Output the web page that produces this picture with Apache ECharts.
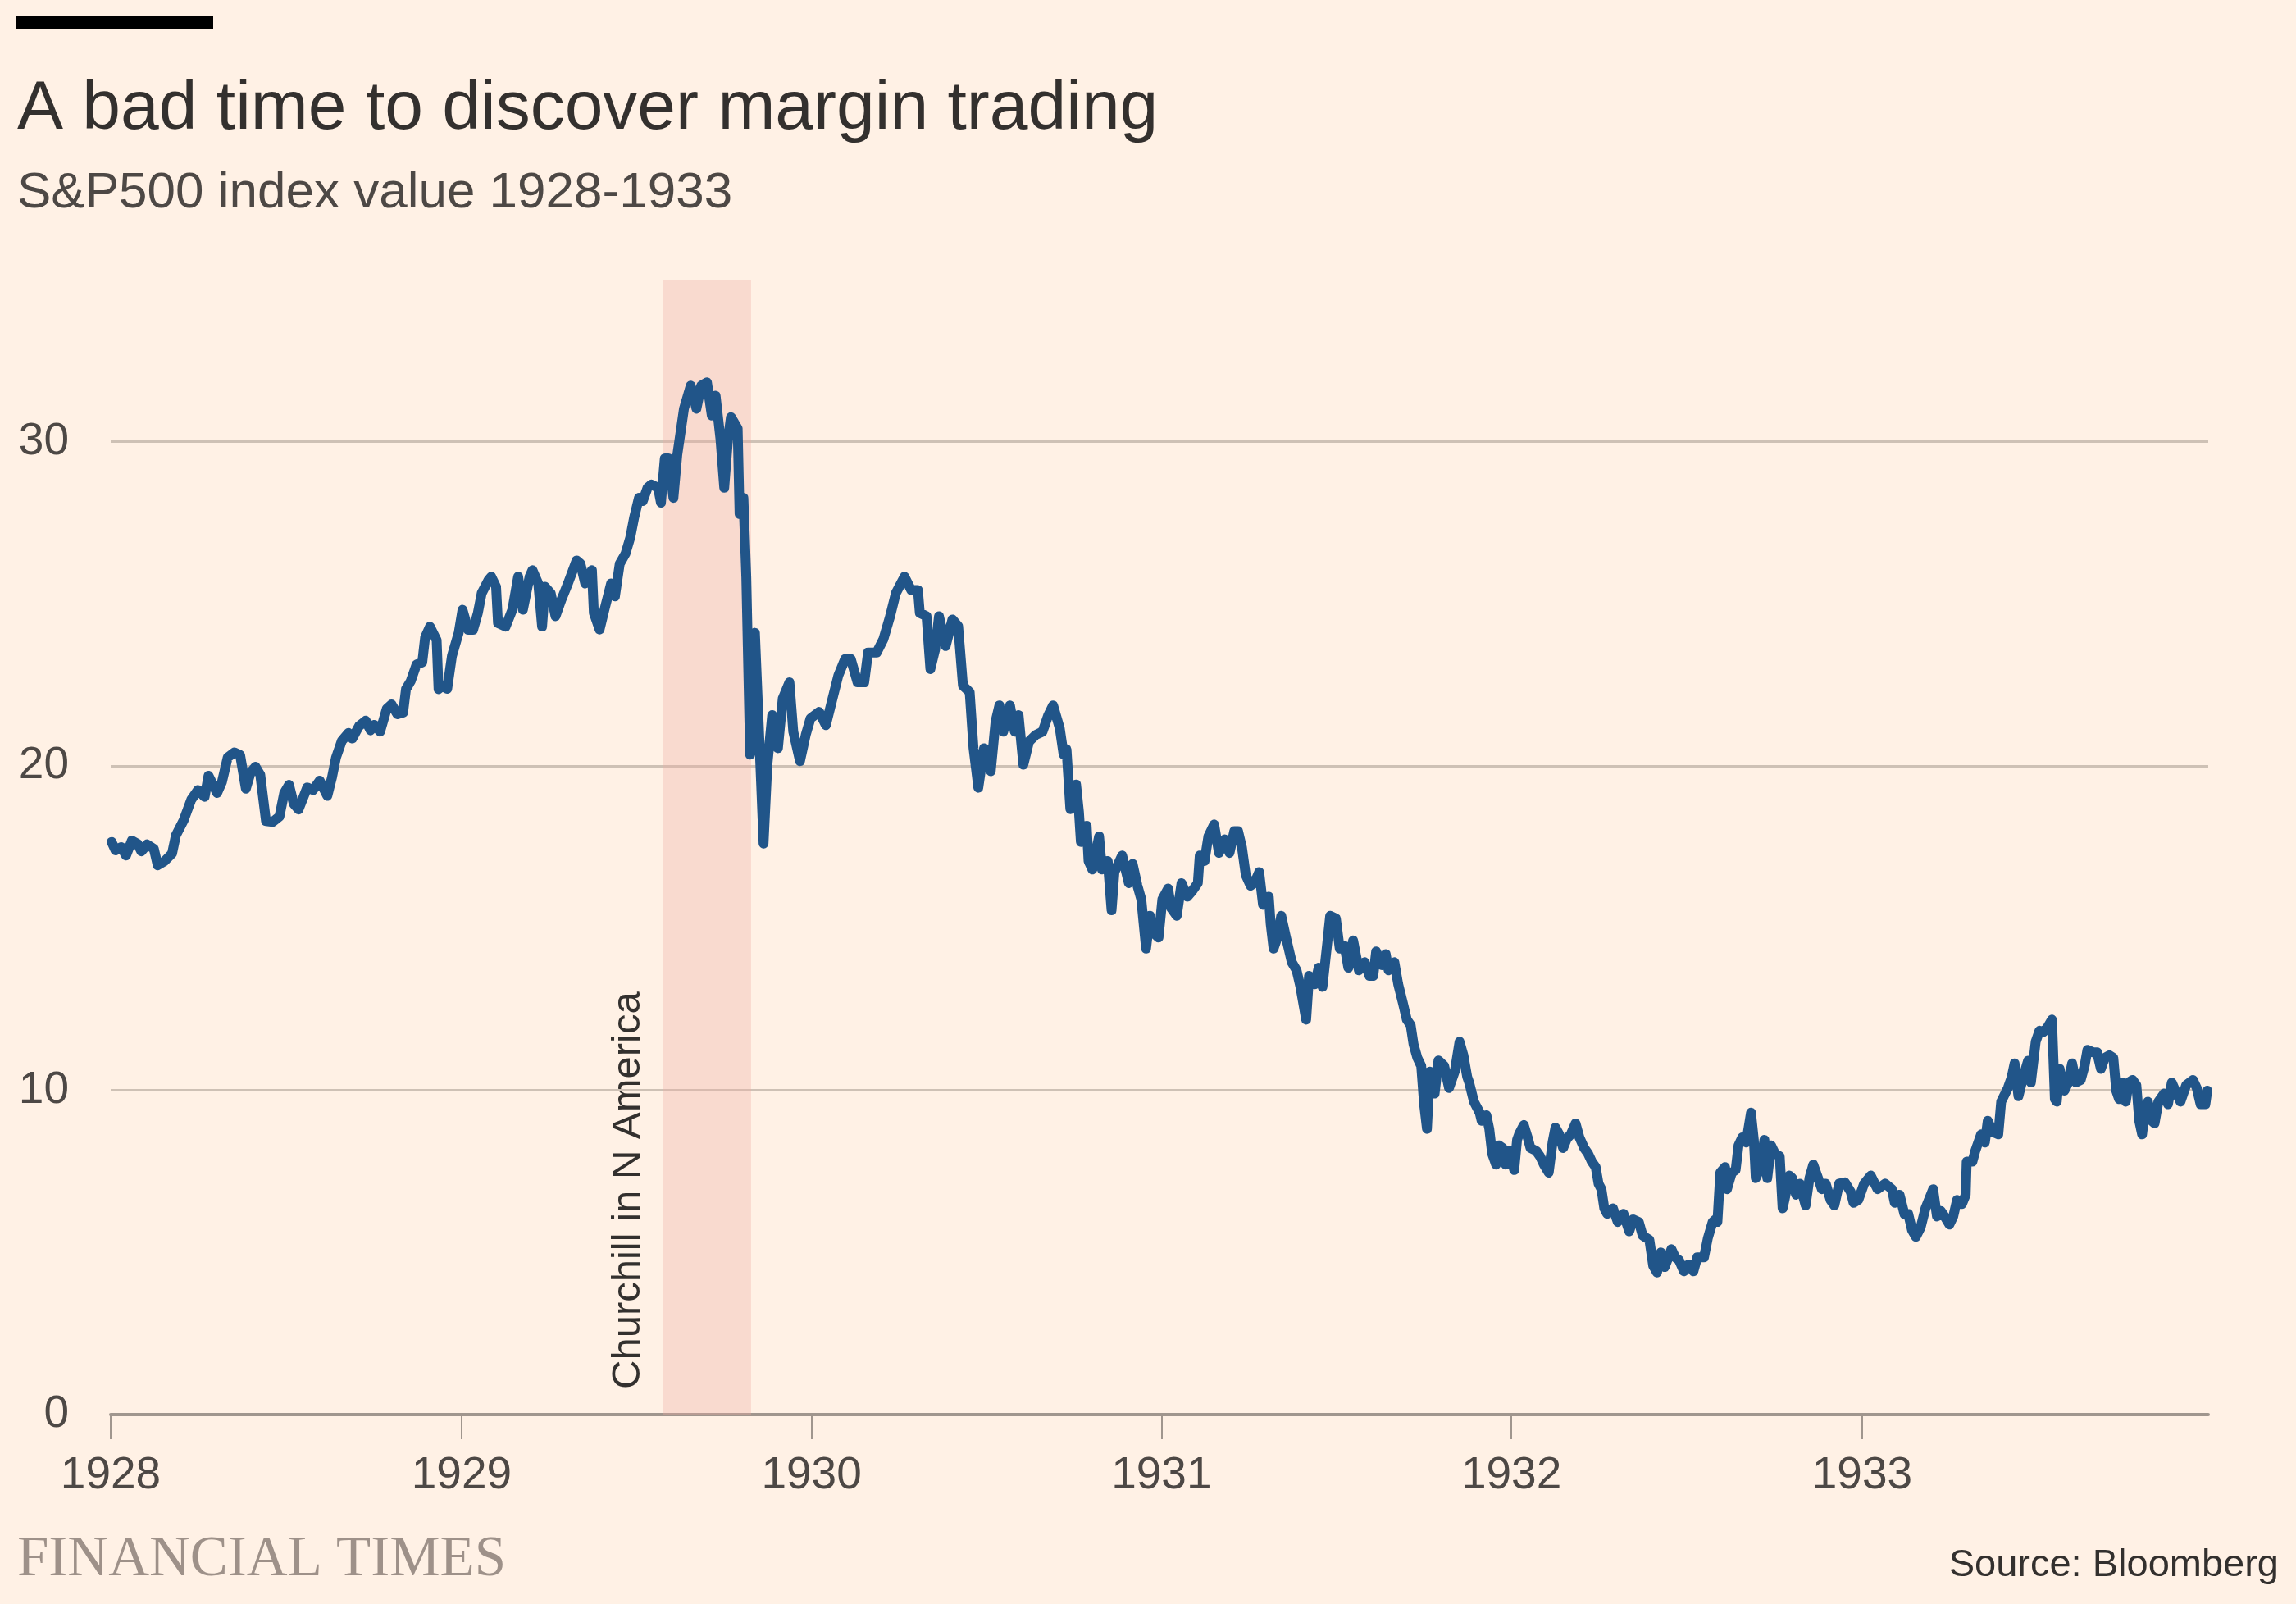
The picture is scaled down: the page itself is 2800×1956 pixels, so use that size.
<!DOCTYPE html>
<html>
<head>
<meta charset="utf-8">
<title>A bad time to discover margin trading</title>
<script src="https://cdn.jsdelivr.net/npm/echarts@6/dist/echarts.min.js"></script>
<style>
  html, body { margin: 0; padding: 0; background: #fff1e5; }
  #chart { width: 2800px; height: 1956px; }
</style>
</head>
<body>
<div id="chart"></div>
<script>
// S&P500 index. x = days since 1 Jan 1928
var dayOffsets = [
  1, 5, 11, 16, 22, 28, 32, 38, 45, 49, 56, 64, 68, 76, 84, 91, 98, 102, 111, 116,
  122, 129, 135, 141, 146, 151, 156, 162, 169, 176, 181, 186, 191, 196, 205, 211, 218, 226, 231, 235,
  241, 248, 252, 259, 266, 271, 275, 281, 288, 293, 299, 305, 308, 313, 319, 325, 328, 333, 340, 342,
  345, 351, 356, 363, 367, 373, 378, 383, 387, 394, 397, 402, 404, 412, 419, 425, 430, 437, 440, 446,
  450, 453, 459, 464, 470, 477, 486, 490, 495, 502, 504, 510, 515, 522, 526, 531, 537, 542, 546, 551,
  555, 560, 564, 571, 574, 578, 582, 587, 591, 598, 605, 611, 616, 622, 627, 631, 636, 640, 644, 647,
  654, 656, 660, 663, 667, 672, 676, 681, 685, 690, 696, 701, 708, 712, 719, 725, 730, 739, 746, 752,
  759, 766, 772, 779, 786, 790, 799, 806, 813, 819, 828, 835, 842, 844, 851, 855, 860, 864, 871, 878,
  884, 889, 896, 900, 905, 911, 918, 923, 927, 931, 938, 943, 947, 952, 958, 965, 972, 978, 983, 990,
  994, 997, 1001, 1007, 1010, 1012, 1018, 1020, 1024, 1031, 1034, 1040, 1044, 1047, 1055, 1062, 1066, 1071, 1075, 1080,
  1084, 1090, 1093, 1097, 1103, 1106, 1112, 1117, 1123, 1128, 1134, 1136, 1141, 1145, 1151, 1156, 1162, 1167, 1172, 1176,
  1180, 1184, 1189, 1193, 1198, 1202, 1208, 1210, 1213, 1217, 1221, 1226, 1232, 1237, 1241, 1247, 1250, 1256, 1260, 1264,
  1269, 1272, 1278, 1282, 1287, 1291, 1296, 1302, 1308, 1313, 1317, 1320, 1326, 1330, 1333, 1339, 1343, 1348, 1352, 1356,
  1359, 1363, 1367, 1370, 1373, 1376, 1381, 1385, 1391, 1396, 1402, 1407, 1411, 1415, 1417, 1422, 1428, 1430, 1435, 1438,
  1441, 1445, 1448, 1452, 1455, 1459, 1464, 1467, 1469, 1474, 1478, 1481, 1487, 1491, 1495, 1500, 1504, 1507, 1511, 1515,
  1519, 1523, 1528, 1532, 1537, 1541, 1545, 1549, 1552, 1555, 1558, 1561, 1567, 1572, 1578, 1584, 1588, 1594, 1598, 1605,
  1609, 1613, 1617, 1621, 1628, 1632, 1636, 1641, 1646, 1651, 1655, 1662, 1666, 1671, 1674, 1676, 1679, 1684, 1686, 1691,
  1695, 1698, 1702, 1706, 1711, 1714, 1716, 1721, 1725, 1728, 1732, 1736, 1741, 1744, 1746, 1751, 1754, 1758, 1762, 1765,
  1768, 1772, 1776, 1781, 1785, 1789, 1794, 1798, 1803, 1809, 1815, 1818, 1823, 1829, 1836, 1843, 1851, 1858, 1861, 1866,
  1871, 1875, 1879, 1883, 1888, 1893, 1901, 1905, 1909, 1913, 1918, 1922, 1926, 1931, 1935, 1936, 1942, 1945, 1951, 1955,
  1958, 1963, 1969, 1972, 1979, 1983, 1986, 1990, 1995, 2000, 2003, 2008, 2012, 2016, 2020, 2025, 2028, 2030, 2033, 2038,
  2042, 2046, 2050, 2055, 2059, 2062, 2068, 2072, 2076, 2080, 2085, 2089, 2092, 2095, 2098, 2102, 2105, 2109, 2113, 2116,
  2119, 2122, 2125, 2129, 2132, 2136, 2142, 2146, 2150, 2155, 2159, 2165, 2172, 2176, 2180, 2185, 2187
];
var sp500 = [
  17.66, 17.40, 17.50, 17.24, 17.70, 17.60, 17.37, 17.58, 17.45, 16.94, 17.06, 17.30, 17.86, 18.32, 18.96, 19.26, 19.05, 19.70, 19.17, 19.50,
  20.26, 20.42, 20.34, 19.30, 19.80, 19.98, 19.73, 18.30, 18.28, 18.44, 19.17, 19.42, 18.83, 18.66, 19.34, 19.26, 19.55, 19.08, 19.67, 20.26,
  20.77, 21.02, 20.85, 21.23, 21.40, 21.10, 21.27, 21.06, 21.77, 21.90, 21.60, 21.65, 22.37, 22.62, 23.13, 23.20, 23.97, 24.30, 23.88, 22.37,
  22.48, 22.38, 23.40, 24.11, 24.82, 24.20, 24.20, 24.72, 25.33, 25.73, 25.84, 25.53, 24.41, 24.30, 24.82, 25.84, 24.82, 25.84, 26.04, 25.63,
  24.30, 25.53, 25.33, 24.62, 25.12, 25.63, 26.34, 26.24, 25.63, 26.04, 24.72, 24.21, 24.82, 25.63, 25.23, 26.24, 26.55, 27.05, 27.66, 28.27,
  28.17, 28.58, 28.68, 28.58, 28.12, 29.49, 29.49, 28.27, 29.59, 31.02, 31.73, 31.02, 31.73, 31.83, 30.81, 31.42, 30.10, 28.58, 30.10, 30.76,
  30.41, 27.77, 28.27, 25.83, 20.35, 24.11, 21.26, 17.61, 20.04, 21.57, 20.55, 22.08, 22.58, 21.06, 20.15, 20.96, 21.47, 21.67, 21.26, 21.97,
  22.79, 23.30, 23.30, 22.58, 22.58, 23.50, 23.50, 23.91, 24.62, 25.33, 25.84, 25.43, 25.43, 24.72, 24.62, 22.99, 23.60, 24.62, 23.70, 24.52,
  24.31, 22.48, 22.28, 20.55, 19.33, 20.55, 19.84, 21.37, 21.87, 21.06, 21.87, 21.06, 21.57, 20.04, 20.76, 20.96, 21.06, 21.57, 21.87, 21.16,
  20.35, 20.52, 18.67, 19.43, 18.58, 17.66, 18.16, 17.07, 16.81, 17.83, 16.81, 17.07, 15.55, 16.73, 17.24, 16.39, 16.98, 16.31, 15.89, 14.37,
  15.38, 14.79, 14.71, 15.89, 16.22, 15.63, 15.38, 16.39, 15.97, 16.14, 16.39, 17.24, 17.07, 17.83, 18.20, 17.32, 17.74, 17.32, 17.99, 17.99,
  17.49, 16.64, 16.31, 16.39, 16.73, 15.72, 15.97, 15.13, 14.37, 14.71, 15.38, 14.71, 13.95, 13.70, 13.19, 12.18, 13.53, 13.27, 13.78, 13.19,
  14.54, 15.38, 15.30, 14.37, 14.45, 13.78, 14.62, 13.70, 13.95, 13.53, 13.53, 14.28, 13.86, 14.20, 13.70, 13.95, 13.27, 12.68, 12.18, 12.01,
  11.42, 11.00, 10.75, 9.57, 8.81, 10.58, 9.90, 10.92, 10.75, 10.07, 10.58, 11.50, 11.08, 10.41, 10.24, 9.65, 9.31, 9.06, 9.23, 8.81,
  8.05, 7.71, 8.30, 8.22, 7.71, 8.13, 7.54, 8.47, 8.64, 8.93, 8.55, 8.22, 8.13, 7.96, 7.71, 7.46, 8.39, 8.85, 8.64, 8.22,
  8.51, 8.64, 8.98, 8.55, 8.22, 8.05, 7.80, 7.63, 7.12, 6.95, 6.36, 6.19, 6.36, 5.94, 6.19, 5.65, 6.02, 5.94, 5.52, 5.39,
  4.59, 4.38, 5.00, 4.55, 5.10, 4.85, 4.76, 4.42, 4.63, 4.42, 4.85, 4.85, 5.44, 5.94, 6.02, 5.94, 7.46, 7.63, 6.95, 7.46,
  7.54, 8.30, 8.55, 8.39, 9.31, 8.47, 7.29, 7.63, 8.47, 7.29, 8.30, 8.05, 7.96, 6.36, 6.62, 7.37, 7.29, 6.78, 7.12, 6.78,
  6.45, 7.29, 7.71, 7.29, 6.95, 7.12, 6.62, 6.45, 7.12, 7.16, 6.87, 6.53, 6.62, 7.12, 7.37, 6.95, 7.12, 6.95, 6.53, 6.78,
  6.19, 6.19, 5.69, 5.48, 5.77, 6.36, 6.95, 6.11, 6.28, 6.11, 5.86, 6.11, 6.62, 6.49, 6.78, 7.80, 7.80, 8.13, 8.64, 8.39,
  9.06, 8.72, 8.64, 9.65, 10.07, 10.41, 10.83, 9.82, 10.41, 10.91, 10.24, 11.50, 11.84, 11.80, 11.93, 12.18, 9.73, 9.65, 10.66, 9.99,
  10.24, 10.83, 10.24, 10.32, 10.75, 11.25, 11.17, 11.17, 10.66, 11.00, 11.08, 11.00, 9.99, 9.73, 10.24, 9.65, 10.24, 10.32, 10.16, 9.06,
  8.64, 9.40, 9.65, 9.06, 8.98, 9.65, 9.90, 9.57, 10.24, 9.90, 9.65, 10.16, 10.32, 10.07, 9.57, 9.57, 9.99
];

var years = [1928, 1929, 1930, 1931, 1932, 1933];
var yTicks = [0, 10, 20, 30];
var yMax = 35;
var axisEnd = [1933, 11, 28];
var bandStart = [1929, 6, 30];
var bandEnd = [1929, 9, 30];
var bandLabel = 'Churchill in N America';

var DAY = 24 * 3600 * 1000;
var start = Date.UTC(1928, 0, 1);
var toTime = function (ymd) { return Date.UTC(ymd[0], ymd[1], ymd[2]); };
var seriesData = dayOffsets.map(function (d, i) {
    return [start + d * DAY, sp500[i]];
});
var yearStarts = years.map(function (y) { return Date.UTC(y, 0, 1); });

var chart = echarts.init(document.getElementById('chart'), null, { renderer: 'canvas' });

var option = {
    backgroundColor: '#fff1e5',
    animation: false,
    textStyle: { fontFamily: 'Liberation Sans' },
    grid: {
        left: 135,
        right: 107,
        top: 341,
        bottom: 231,
        containLabel: false
    },
    xAxis: {
        type: 'value',
        min: start,
        max: toTime(axisEnd),
        axisLine: { show: true, lineStyle: { color: '#a0968e', width: 4 } },
        axisTick: {
            show: true,
            length: 30,
            customValues: yearStarts,
            lineStyle: { color: '#a0968e', width: 2 }
        },
        axisLabel: {
            customValues: yearStarts,
            margin: 47,
            fontSize: 55,
            color: '#4d4845',
            fontFamily: 'Liberation Sans',
            formatter: function (v) { return String(new Date(v).getUTCFullYear()); }
        },
        splitLine: { show: false }
    },
    yAxis: {
        type: 'value',
        min: 0,
        max: yMax,
        axisLine: { show: false },
        axisTick: { show: false, customValues: yTicks },
        axisLabel: {
            customValues: yTicks,
            margin: 51,
            fontSize: 55,
            color: '#4d4845',
            fontFamily: 'Liberation Sans'
        },
        splitLine: { show: true, lineStyle: { color: '#cec1b5', width: 3 } }
    },
    series: [{
        type: 'line',
        data: seriesData,
        showSymbol: false,
        sampling: null,
        lineStyle: { color: '#215589', width: 12, cap: 'round', join: 'round' },
        markArea: {
            silent: true,
            itemStyle: { color: 'rgba(235,171,162,0.32)' },
            data: [[
                { xAxis: toTime(bandStart) },
                { xAxis: toTime(bandEnd) }
            ]]
        }
    }],
    graphic: [
        { type: 'rect', shape: { x: 20, y: 20, width: 240, height: 15 }, style: { fill: '#000000' } },
        {
            type: 'text', x: 21, y: 134,
            style: { text: 'A bad time to discover margin trading', font: '84px "Liberation Sans"', fill: '#33302e', textAlign: 'left', textVerticalAlign: 'middle' }
        },
        {
            type: 'text', x: 21, y: 236,
            style: { text: 'S&P500 index value 1928-1933', font: '62px "Liberation Sans"', fill: '#4d4845', textAlign: 'left', textVerticalAlign: 'middle' }
        },
        {
            type: 'text', x: 766, y: 1694, rotation: Math.PI / 2,
            style: { text: bandLabel, font: '49px "Liberation Sans"', fill: '#33302e', textAlign: 'left', textVerticalAlign: 'middle' }
        },
        {
            type: 'text', x: 21, y: 1903,
            style: { text: 'FINANCIAL TIMES', font: '69px "Liberation Serif"', fill: '#9e9189', textAlign: 'left', textVerticalAlign: 'middle' }
        },
        {
            type: 'text', x: 2779, y: 1909,
            style: { text: 'Source: Bloomberg', font: '47px "Liberation Sans"', fill: '#33302e', textAlign: 'right', textVerticalAlign: 'middle' }
        }
    ]
};

chart.setOption(option);
</script>
</body>
</html>
